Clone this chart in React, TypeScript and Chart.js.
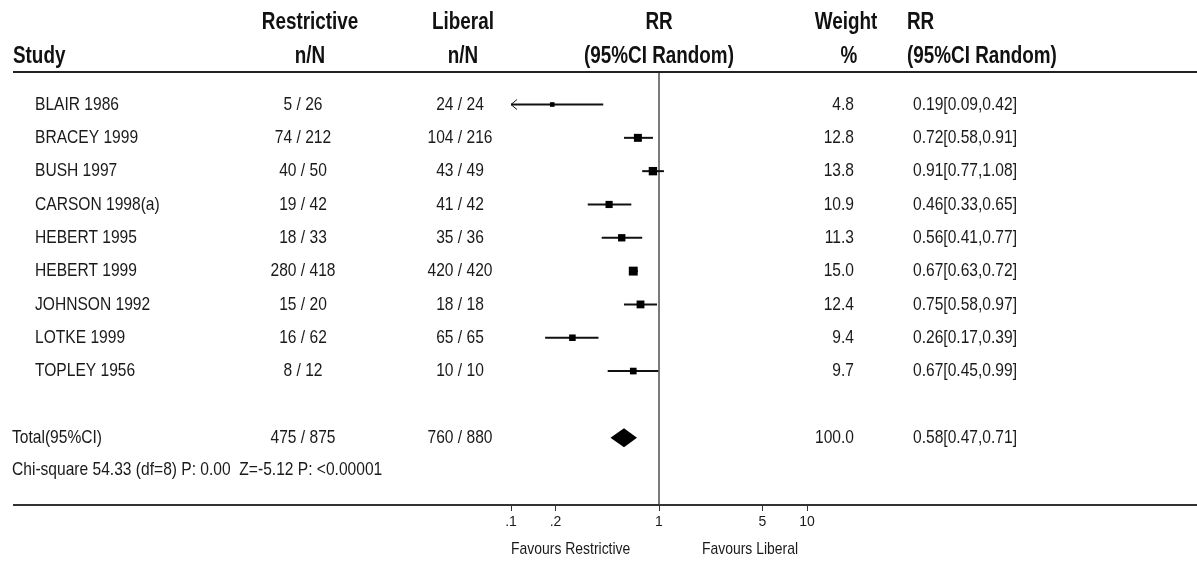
import React, { useEffect, useRef } from "react";
import { Chart, registerables } from "chart.js";

Chart.register(...registerables);

// ---------- data ----------
const studies = [
  "BLAIR 1986",
  "BRACEY 1999",
  "BUSH 1997",
  "CARSON 1998(a)",
  "HEBERT 1995",
  "HEBERT 1999",
  "JOHNSON 1992",
  "LOTKE 1999",
  "TOPLEY 1956",
];
const restrictiveEvents = [5, 74, 40, 19, 18, 280, 15, 16, 8];
const restrictiveTotal = [26, 212, 50, 42, 33, 418, 20, 62, 12];
const liberalEvents = [24, 104, 43, 41, 35, 420, 18, 65, 10];
const liberalTotal = [24, 216, 49, 42, 36, 420, 18, 65, 10];
const weights = [4.8, 12.8, 13.8, 10.9, 11.3, 15.0, 12.4, 9.4, 9.7];
const rr = [0.19, 0.72, 0.91, 0.46, 0.56, 0.67, 0.75, 0.26, 0.67];
const ciLow = [0.09, 0.58, 0.77, 0.33, 0.41, 0.63, 0.58, 0.17, 0.45];
const ciHigh = [0.42, 0.91, 1.08, 0.65, 0.77, 0.72, 0.97, 0.39, 0.99];

const totalLabel = "Total(95%CI)";
const totalRestrictive = [475, 875];
const totalLiberal = [760, 880];
const totalWeight = 100.0;
const totalRR = [0.58, 0.47, 0.71]; // estimate, low, high
const heterogeneityText = "Chi-square 54.33 (df=8) P: 0.00  Z=-5.12 P: <0.00001";

const tickValues = [0.1, 0.2, 1, 5, 10];
const tickLabels = [".1", ".2", "1", "5", "10"];
const axisMin = 0.1;
const axisMax = 10;
const favourLeft = "Favours Restrictive";
const favourRight = "Favours Liberal";

const headerTop = ["Restrictive", "Liberal", "RR", "Weight", "RR"];
const headerBottom = ["Study", "n/N", "n/N", "(95%CI Random)", "%", "(95%CI Random)"];

// row positions (y scale units)
const totalRow = 10;
const hetRow = 10.95;

export default function App() {
  const ref = useRef<HTMLCanvasElement | null>(null);

  useEffect(() => {
    document.body.style.margin = "0";
    const canvas = ref.current;
    if (!canvas) return;
    const FAM = '"Liberation Sans", Arial, sans-serif';
    const SX = 0.82; // horizontal condensing to mimic a narrow face
    const headFont = `bold 23px ${FAM}`;
    const dataFont = `19px ${FAM}`;
    const smallFont = `17px ${FAM}`;
    const txt = "#1a1a1a";

    const fmt2 = (v: number) => v.toFixed(2);
    const rrText = (e: number, l: number, h: number) => `${fmt2(e)}[${fmt2(l)},${fmt2(h)}]`;

    const say = (ctx: CanvasRenderingContext2D, s: string, x: number, y: number, align: CanvasTextAlign) => {
      ctx.save();
      ctx.translate(x, y);
      ctx.scale(SX, 1);
      ctx.textAlign = align;
      ctx.fillText(s, 0, 0);
      ctx.restore();
    };

    const forestPlugin = {
      id: "forest",
      beforeDatasetsDraw(chart: any) {
        const { ctx, chartArea } = chart;
        const xs = chart.scales.x;
        const ys = chart.scales.y;
        ctx.save();
        // line of no effect
        const x1 = xs.getPixelForValue(1);
        ctx.strokeStyle = "#7a7a7a";
        ctx.lineWidth = 2;
        ctx.beginPath();
        ctx.moveTo(x1, chartArea.top);
        ctx.lineTo(x1, chartArea.bottom);
        ctx.stroke();
        // CI lines
        ctx.strokeStyle = "#111";
        ctx.lineWidth = 2;
        rr.forEach((_, i) => {
          const y = ys.getPixelForValue(i);
          const lo = Math.max(ciLow[i], axisMin);
          const hi = Math.min(ciHigh[i], axisMax);
          const xl = xs.getPixelForValue(lo);
          const xh = xs.getPixelForValue(hi);
          ctx.beginPath();
          ctx.moveTo(xl, y);
          ctx.lineTo(xh, y);
          ctx.stroke();
          if (ciLow[i] < axisMin) {
            ctx.lineWidth = 1;
            ctx.beginPath();
            ctx.moveTo(xl + 6, y - 5);
            ctx.lineTo(xl, y);
            ctx.lineTo(xl + 6, y + 5);
            ctx.stroke();
            ctx.lineWidth = 2;
          }
        });
        // pooled diamond
        const yt = ys.getPixelForValue(totalRow);
        const xc = xs.getPixelForValue(totalRR[0]);
        const xl = xs.getPixelForValue(totalRR[1]);
        const xh = xs.getPixelForValue(totalRR[2]);
        ctx.fillStyle = "#000";
        ctx.beginPath();
        ctx.moveTo(xl, yt);
        ctx.lineTo(xc, yt - 9.5);
        ctx.lineTo(xh, yt);
        ctx.lineTo(xc, yt + 9.5);
        ctx.closePath();
        ctx.fill();
        ctx.restore();
      },
      afterDraw(chart: any) {
        const { ctx, chartArea, width } = chart;
        const xs = chart.scales.x;
        const ys = chart.scales.y;
        ctx.save();
        // rules
        ctx.strokeStyle = "#222";
        ctx.lineWidth = 2;
        ctx.beginPath();
        ctx.moveTo(13, chartArea.top);
        ctx.lineTo(width, chartArea.top);
        ctx.stroke();
        ctx.strokeStyle = "#333";
        ctx.beginPath();
        ctx.moveTo(13, chartArea.bottom);
        ctx.lineTo(width, chartArea.bottom);
        ctx.stroke();

        ctx.fillStyle = "#111";
        ctx.textBaseline = "middle";
        // headers
        const xMid = xs.getPixelForValue(1);
        ctx.font = headFont;
        const hy1 = 23;
        const hy2 = 57;
        say(ctx, headerTop[0], 310, hy1, "center");
        say(ctx, headerTop[1], 463, hy1, "center");
        say(ctx, headerTop[2], xMid, hy1, "center");
        say(ctx, headerTop[3], 846, hy1, "center");
        say(ctx, headerBottom[1], 310, hy2, "center");
        say(ctx, headerBottom[2], 463, hy2, "center");
        say(ctx, headerBottom[3], xMid, hy2, "center");
        say(ctx, headerBottom[4], 849, hy2, "center");
        say(ctx, headerTop[4], 907, hy1, "left");
        say(ctx, headerBottom[5], 907, hy2, "left");
        say(ctx, headerBottom[0], 13, hy2, "left");

        // rows
        ctx.fillStyle = txt;
        ctx.font = dataFont;
        studies.forEach((name, i) => {
          const y = ys.getPixelForValue(i);
          say(ctx, name, 35, y, "left");
          say(ctx, `${restrictiveEvents[i]} / ${restrictiveTotal[i]}`, 303, y, "center");
          say(ctx, `${liberalEvents[i]} / ${liberalTotal[i]}`, 460, y, "center");
          say(ctx, weights[i].toFixed(1), 854, y, "right");
          say(ctx, rrText(rr[i], ciLow[i], ciHigh[i]), 913, y, "left");
        });
        const yt = ys.getPixelForValue(totalRow);
        say(ctx, totalLabel, 12, yt, "left");
        say(ctx, `${totalRestrictive[0]} / ${totalRestrictive[1]}`, 303, yt, "center");
        say(ctx, `${totalLiberal[0]} / ${totalLiberal[1]}`, 460, yt, "center");
        say(ctx, totalWeight.toFixed(1), 854, yt, "right");
        say(ctx, rrText(totalRR[0], totalRR[1], totalRR[2]), 913, yt, "left");
        say(ctx, heterogeneityText, 12, ys.getPixelForValue(hetRow), "left");

        // favours labels
        ctx.font = smallFont;
        say(ctx, favourLeft, xs.getPixelForValue(axisMin), 549, "left");
        say(ctx, favourRight, xs.getPixelForValue(axisMax) - 9, 549, "right");
        ctx.restore();
      },
    };

    const side = (w: number) => (2.6 + w * 0.42) / Math.SQRT2;

    const chart = new Chart(canvas, {
      type: "scatter",
      data: {
        datasets: [
          {
            data: rr.map((v, i) => ({ x: v, y: i })),
            pointStyle: "rect",
            pointRadius: weights.map(side),
            pointHoverRadius: weights.map(side),
            backgroundColor: "#000",
            borderColor: "#000",
            borderWidth: 0,
          },
        ],
      },
      options: {
        animation: false,
        responsive: false,
        devicePixelRatio: 1,
        events: [],
        layout: { padding: { left: 511, right: 390, top: 72, bottom: 27 } },
        plugins: { legend: { display: false }, tooltip: { enabled: false }, title: { display: false } },
        scales: {
          x: {
            type: "logarithmic",
            min: axisMin,
            max: axisMax,
            position: "bottom",
            border: { display: false },
            grid: { drawOnChartArea: false, drawTicks: true, tickLength: 6, color: "#333", lineWidth: 1 },
            afterBuildTicks: (s: any) => {
              s.ticks = tickValues.map((v) => ({ value: v }));
            },
            afterFit: (s: any) => {
              s.height = 30;
            },
            ticks: {
              autoSkip: false,
              maxRotation: 0,
              padding: 3,
              color: txt,
              font: { family: FAM, size: 14 },
              callback: (_v: any, idx: number) => tickLabels[idx],
            },
          },
          y: {
            type: "linear",
            reverse: true,
            min: -0.976,
            max: 12.02,
            display: false,
          },
        },
      },
      plugins: [forestPlugin],
    } as any);

    return () => chart.destroy();
  }, []);

  return (
    <div style={{ width: 1197, height: 562, background: "#fff" }}>
      <canvas ref={ref} width={1197} height={562} style={{ display: "block", width: 1197, height: 562 }} />
    </div>
  );
}
